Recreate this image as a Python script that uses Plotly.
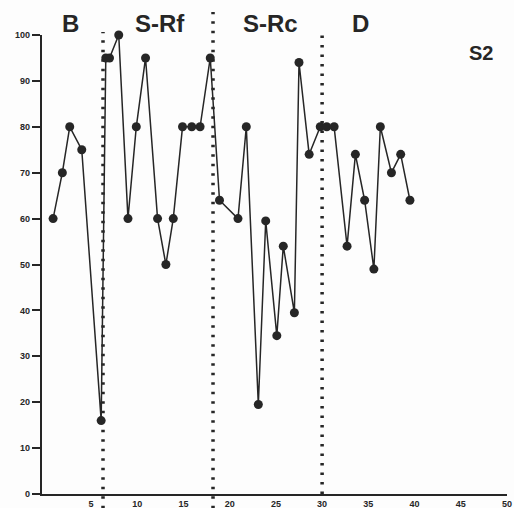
import plotly.graph_objects as go

# Session positions (as drawn) and percentage values, by phase
b_x = [0.9, 1.9, 2.7, 4.0, 6.1]
b_y = [60, 70, 80, 75, 16]
srf_x = [6.6, 7.0, 8.0, 9.0, 9.9, 10.9, 12.2, 13.1, 13.9, 14.9, 15.9, 16.8, 17.9]
srf_y = [95, 95, 100, 60, 80, 95, 60, 50, 60, 80, 80, 80, 95]
src_x = [18.9, 20.9, 21.8, 23.1, 23.9, 25.1, 25.8, 27.0, 27.5, 28.6, 29.8]
src_y = [64, 60, 80, 19.5, 59.5, 34.5, 54, 39.5, 94, 74, 80]
d_x = [30.5, 31.3, 32.7, 33.6, 34.6, 35.6, 36.3, 37.5, 38.5, 39.5]
d_y = [80, 80, 54, 74, 64, 49, 80, 70, 74, 64]

phase_bounds = [6.3, 18.2, 30.0]
phase_labels = ["B", "S-Rf", "S-Rc", "D"]
phase_label_x = [2.83, 12.46, 24.4, 34.1]
subject_label = "S2"

x_ticks = [5, 10, 15, 20, 25, 30, 35, 40, 45, 50]
y_ticks = [0, 10, 20, 30, 40, 50, 60, 70, 80, 90, 100]

ink = "#262626"
xs = b_x + srf_x + src_x + d_x
ys = b_y + srf_y + src_y + d_y

fig = go.Figure()
fig.add_trace(go.Scatter(
    x=xs, y=ys, mode="lines+markers",
    line=dict(color=ink, width=1.5),
    marker=dict(color=ink, size=9),
    cliponaxis=False, showlegend=False, hoverinfo="skip",
))

tops = [1.0065, 1.05, 1.0065]
bottoms = [-0.031, -0.031, 0.0]
for bx, t, b in zip(phase_bounds, tops, bottoms):
    fig.add_shape(type="line", xref="x", yref="paper", x0=bx, x1=bx, y0=b, y1=t,
                  line=dict(color=ink, width=3.5, dash="2.5px,7px"), layer="below")

for lab, lx in zip(phase_labels, phase_label_x):
    fig.add_annotation(x=lx, y=1.026, xref="x", yref="paper", text=lab, showarrow=False,
                       xanchor="center", yanchor="middle",
                       font=dict(family="Liberation Sans", size=24, color=ink, weight="bold"))
fig.add_annotation(x=47.2, y=0.961, xref="x", yref="paper", text=subject_label, showarrow=False,
                   xanchor="center", yanchor="middle",
                   font=dict(family="Liberation Sans", size=20, color=ink, weight="bold"))

fig.update_layout(
    width=514, height=508,
    margin=dict(l=42, r=7, t=35, b=14),
    paper_bgcolor="#fdfdfd", plot_bgcolor="#fdfdfd",
    font=dict(family="Liberation Sans", color=ink),
)
fig.update_xaxes(range=[-0.3, 50], tickvals=x_ticks, ticktext=[str(v) for v in x_ticks],
                 showgrid=False, zeroline=False, showline=True, linecolor=ink, linewidth=2.2,
                 ticks="", tickfont=dict(size=9, weight="bold", color=ink), automargin=False)
fig.update_yaxes(range=[0, 100], tickvals=y_ticks, ticktext=[str(v) for v in y_ticks],
                 showgrid=False, zeroline=False, showline=True, linecolor=ink, linewidth=2.2,
                 ticks="outside", ticklen=8, tickwidth=1.5, tickcolor=ink,
                 tickfont=dict(size=9, weight="bold", color=ink), automargin=False)

fig.write_html("out.html")
